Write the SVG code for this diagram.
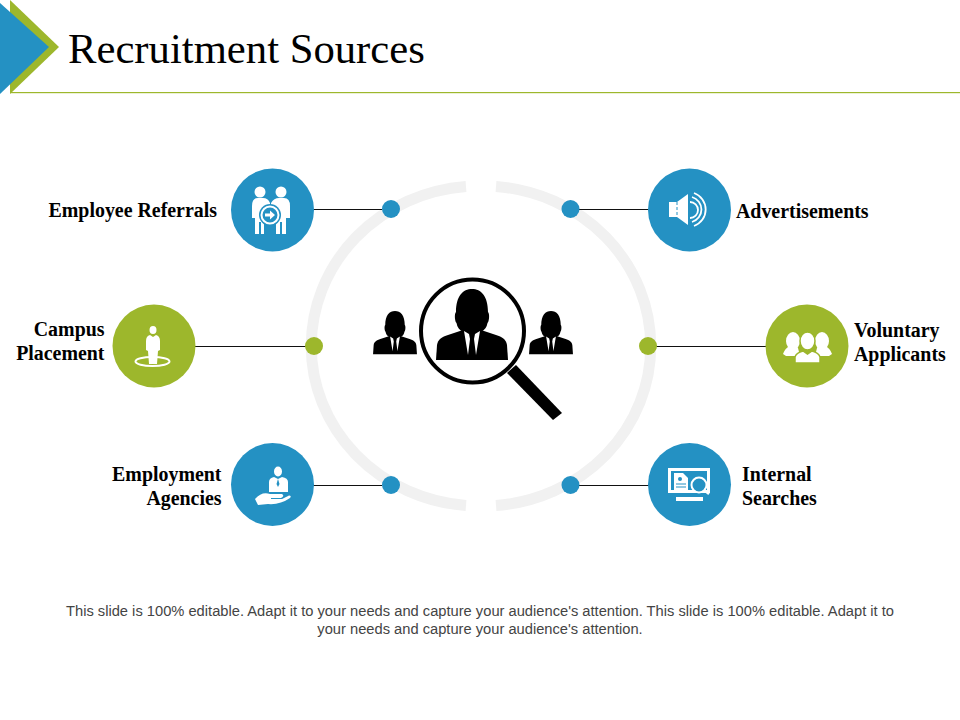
<svg xmlns="http://www.w3.org/2000/svg" width="960" height="720" viewBox="0 0 960 720">
<style>
.lbl{font-family:"Liberation Serif",serif;font-weight:bold;font-size:19.9px;fill:#000}
.end{text-anchor:end}
.foot{font-family:"Liberation Sans",sans-serif;font-size:14.7px;fill:#444;text-anchor:middle}
.c{stroke:#111;stroke-width:1;fill:none}
.blue{fill:#2491c3}
.green{fill:#9db72c}
.w{fill:#fff}
.ws{fill:none;stroke:#fff}
.k{fill:#000}
</style>
<defs>
<g id="person">
<path d="M-16 -18C-16 -34 -9 -41 0 -41C9 -41 16 -34 16 -18C18 -16 17 -8 15.500 -7C14 2 7 3 0 3C-7 3 -14 2 -15.500 -7C-17 -8 -18 -16 -16 -18Z"/>
<path d="M-36 30L-35 15C-34 9 -30 7 -24 5L-9 0H9L24 5C30 7 34 9 35 15L36 30Z"/>
<path d="M-8 1L-3 4L-2 9L-4 25ZM8 1L3 4L2 9L4 25Z" fill="#fff"/>
</g>
</defs>
<g id="header">
<polygon points="10,0 59,47 10,94" class="green"/>
<polygon points="0,3 49,47 0,94" class="blue"/>
<rect x="10" y="92" width="950" height="1.200" class="green"/>
<text x="68" y="63" font-family="'Liberation Serif',serif" font-size="42.700" fill="#000">Recruitment Sources</text>
</g>
<g id="ring" fill="none" stroke="#f1f1f1" stroke-width="11">
<path d="M466 186.500A168 160 0 0 0 466 505.500"/>
<path d="M496 186.500A168 160 0 0 1 496 505.500"/>
</g>
<g id="connectors">
<line class="c" x1="313" y1="209.500" x2="382" y2="209.500"/>
<line class="c" x1="195" y1="346.500" x2="306" y2="346.500"/>
<line class="c" x1="313" y1="485.500" x2="382" y2="485.500"/>
<line class="c" x1="579" y1="209.500" x2="649" y2="209.500"/>
<line class="c" x1="656" y1="346.500" x2="767" y2="346.500"/>
<line class="c" x1="579" y1="485.500" x2="649" y2="485.500"/>
</g>
<g id="dots">
<circle cx="391" cy="209" r="9" class="blue"/>
<circle cx="570.500" cy="209" r="9" class="blue"/>
<circle cx="314" cy="346" r="9" class="green"/>
<circle cx="648" cy="346" r="9" class="green"/>
<circle cx="391" cy="485" r="9" class="blue"/>
<circle cx="570.500" cy="485" r="9" class="blue"/>
</g>
<g id="center">
<use href="#person" class="k" transform="translate(395,336) scale(.61)"/>
<use href="#person" class="k" transform="translate(551,336) scale(.61)"/>
<circle cx="472.500" cy="331" r="51.500" fill="#fff" stroke="#000" stroke-width="4"/>
<use href="#person" class="k" transform="translate(472,330)"/>
<polygon points="507,373 516,365 562,413 553,420" class="k"/>
</g>
<g id="employee-referrals">
<circle cx="272.500" cy="210" r="41.500" class="blue"/>
<g class="w">
<circle cx="260" cy="192" r="5.500"/><circle cx="281" cy="192" r="5.500"/>
<path d="M252 206Q252 198 258 198H263Q268 198 270 203V212H264V234H261V222H259V234H255V218H252Z"/>
<path d="M290 206Q290 198 284 198H279Q274 198 271 203V212H276V234H280V222H282V234H286V218H290Z"/>
</g>
<circle cx="270" cy="215" r="11" class="blue"/>
<circle cx="270" cy="215" r="8.500" class="blue" stroke="#fff" stroke-width="2"/>
<path d="M265 213.500H270V210.500L275 215L270 219.500V216.500H265Z" class="w"/>
<text class="lbl end" x="217" y="216.500">Employee Referrals</text>
</g>
<g id="campus-placement">
<circle cx="154" cy="346" r="41.500" class="green"/>
<ellipse cx="152.500" cy="361.500" rx="17" ry="4.500" class="ws" stroke-width="2"/>
<g class="w">
<ellipse cx="153" cy="330" rx="3.500" ry="4"/>
<path d="M146 341Q146 336 150 335L153 337L156 335Q160 336 160 341V350L158 351L157 364H149L148 351L146 350Z"/>
</g>
<text class="lbl end" x="104.500" y="335.500">Campus</text>
<text class="lbl end" x="104.500" y="359.500">Placement</text>
</g>
<g id="employment-agencies">
<circle cx="272.500" cy="484.500" r="41.500" class="blue"/>
<g class="w">
<ellipse cx="278" cy="471.500" rx="4" ry="5"/>
<path d="M269 482Q269 478 274 477L278 479L282 477Q288 478 288 482V492H269Z"/>
<path d="M255 499Q262 491 270 494H282Q285 496 281 498H271V499L282 499L289 495.500Q292 496 290 498Q280 505 268 504L258 505Z"/>
</g>
<path d="M278 479L276.500 484L278 487L279.500 484Z" class="blue"/>
<text class="lbl end" x="221.500" y="480.500">Employment</text>
<text class="lbl end" x="221.500" y="504.500">Agencies</text>
</g>
<g id="advertisements">
<circle cx="689.500" cy="210" r="41.500" class="blue"/>
<path d="M669 202H677L688 194V225L677 217H669Z" class="w"/>
<line x1="677" y1="202" x2="677" y2="217" stroke="#2491c3" stroke-dasharray="3 2"/>
<g class="ws" stroke-width="1.800">
<path d="M690 202A8 8 0 0 1 690 218"/>
<path d="M692 197A13 13 0 0 1 692 222"/>
<path d="M694 193A17.500 17.500 0 0 1 694 226"/>
</g>
<text class="lbl" x="736" y="217.500">Advertisements</text>
</g>
<g id="voluntary-applicants">
<circle cx="807" cy="346" r="41.500" class="green"/>
<g class="w">
<ellipse cx="793" cy="341" rx="7" ry="9"/><ellipse cx="822" cy="341" rx="7" ry="9"/>
<path d="M783 354Q785 348 790 346L798 348L800 356H786Z"/>
<path d="M832 354Q830 348 825 346L817 348L815 356H829Z"/>
</g>
<g stroke="#9db72c" stroke-width="1.500" class="w">
<ellipse cx="807.500" cy="341" rx="7.500" ry="9"/>
<path d="M795 363V357Q796 353 803 351L807.500 354L812 351Q819 353 820 357V363Z"/>
</g>
<text class="lbl" x="854" y="336.500">Voluntary</text>
<text class="lbl" x="854" y="360.500">Applicants</text>
</g>
<g id="internal-searches">
<circle cx="689.500" cy="484.500" r="41.500" class="blue"/>
<rect x="668" y="468" width="42" height="25" class="w"/>
<rect x="671" y="471" width="36" height="19" class="blue"/>
<rect x="676" y="497" width="27" height="4" class="w"/>
<path d="M674 473H683L688 478V490H674Z" class="w"/>
<circle cx="680" cy="479" r="2" class="blue"/>
<path d="M676 484H686M676 487H686" stroke="#2491c3" stroke-width="1"/>
<circle cx="699" cy="485" r="7.500" class="blue" stroke="#fff" stroke-width="2"/>
<line x1="704" y1="490" x2="709" y2="494" stroke="#fff" stroke-width="2.500"/>
<text class="lbl" x="742" y="480.500">Internal</text>
<text class="lbl" x="742" y="504.500">Searches</text>
</g>
<g id="footer">
<text class="foot" x="480" y="616">This slide is 100% editable. Adapt it to your needs and capture your audience's attention. This slide is 100% editable. Adapt it to</text>
<text class="foot" x="480" y="634">your needs and capture your audience's attention.</text>
</g>
</svg>
